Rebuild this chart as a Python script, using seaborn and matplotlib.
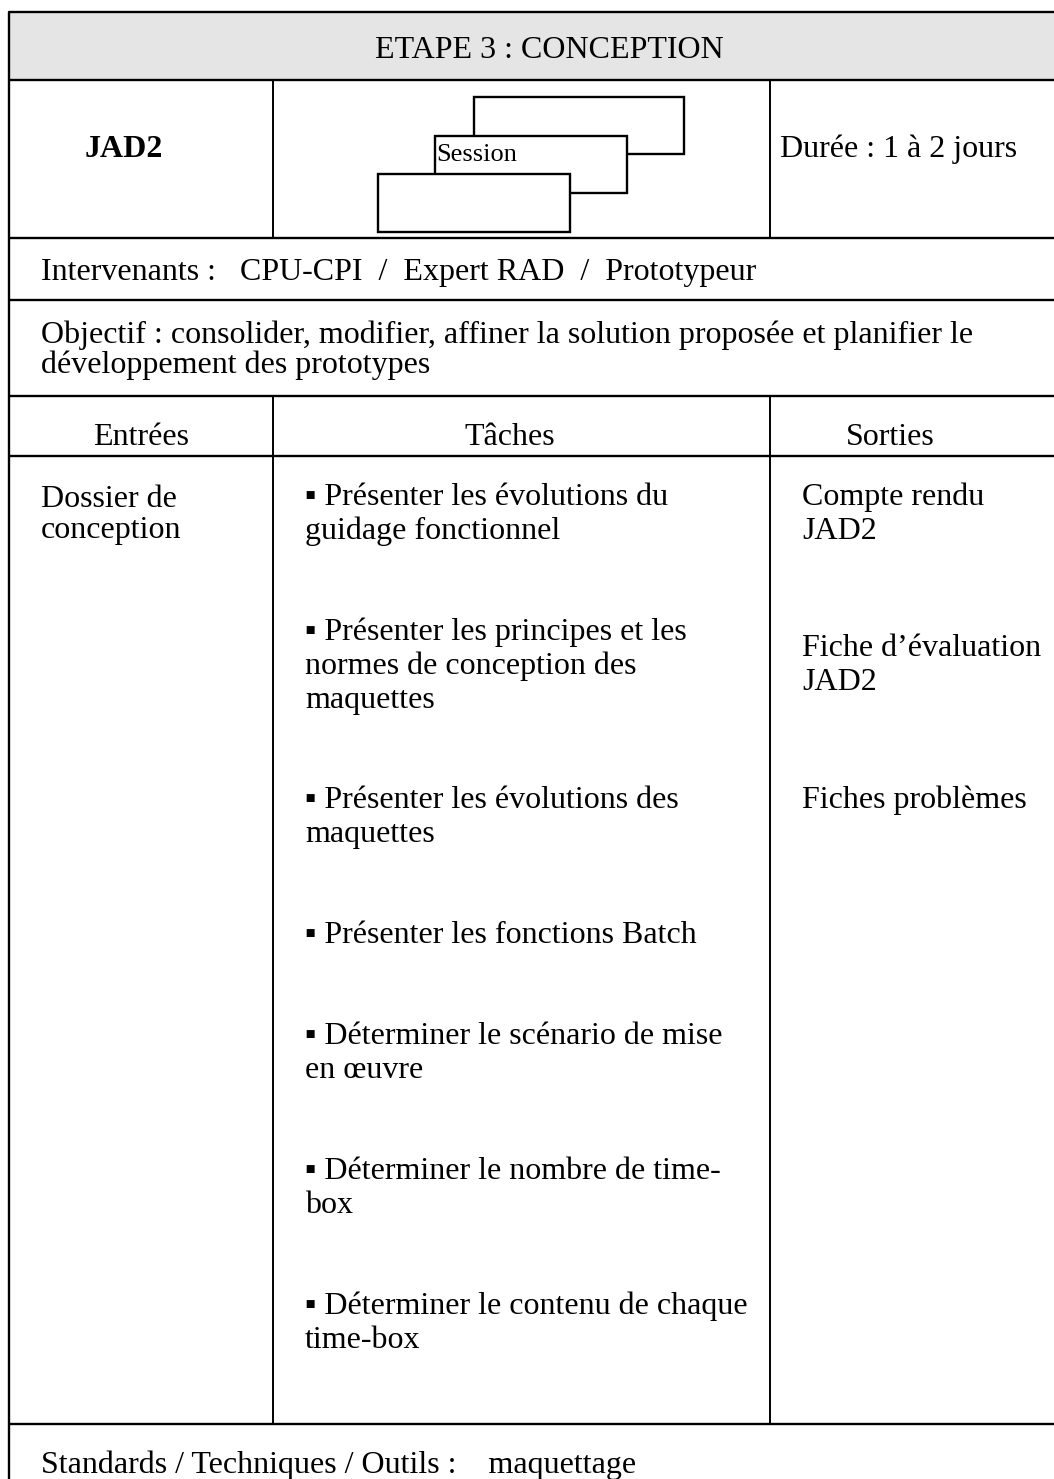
import matplotlib
matplotlib.use("Agg")
import matplotlib.pyplot as plt
import seaborn as sns
from matplotlib.patches import Rectangle

# Fiche content
title = "ETAPE 3 : CONCEPTION"
step_code = "JAD2"
session_label = "Session"
duration = "Durée : 1 à 2 jours"
actors = "Intervenants :   CPU-CPI  /  Expert RAD  /  Prototypeur"
objective = ["Objectif : consolider, modifier, affiner la solution proposée et planifier le",
             "développement des prototypes"]
col_headers = ["Entrées", "Tâches", "Sorties"]
inputs = [["Dossier de", "conception"]]
tasks = [
    ["▪ Présenter les évolutions du", "guidage fonctionnel"],
    ["▪ Présenter les principes et les", "normes de conception des", "maquettes"],
    ["▪ Présenter les évolutions des", "maquettes"],
    ["▪ Présenter les fonctions Batch"],
    ["▪ Déterminer le scénario de mise", "en œuvre"],
    ["▪ Déterminer le nombre de time-", "box"],
    ["▪ Déterminer le contenu de chaque", "time-box"],
]
outputs = [["Compte rendu", "JAD2"], ["Fiche d’évaluation", "JAD2"], ["Fiches problèmes"]]
tools = "Standards / Techniques / Outils :    maquettage"

# layout (pixels, y from top)
W, H = 1054, 1479
left, right = 9, 1054
col1, col2 = 273, 770
rows = [12, 80, 238, 300, 396, 456, 1424]
task_y = [505, 640, 808, 943, 1044, 1179, 1314]
out_y = [505, 656, 808]
lh = 34

sns.set_theme(style="white")
plt.rcParams['font.family'] = ['Liberation Serif', 'DejaVu Serif']
fs = 23

fig = plt.figure(figsize=(W / 100, H / 100), dpi=100)
ax = fig.add_axes([0, 0, 1, 1])
ax.set_xlim(0, W)
ax.set_ylim(H, 0)
ax.axis('off')

lw = 1.7
# header band
ax.add_patch(Rectangle((left, rows[0]), right - left + 5, rows[1] - rows[0],
                       facecolor='#e5e5e5', edgecolor='none', zorder=0))
for y in rows:
    ax.plot([left, right + 5], [y, y], color='black', lw=lw, solid_capstyle='butt')
ax.plot([left, left], [rows[0], H + 5], color='black', lw=lw)
for x in (col1, col2):
    ax.plot([x, x], [rows[1], rows[2]], color='black', lw=1.4)
    ax.plot([x, x], [rows[4], rows[6]], color='black', lw=1.4)

# session icon: three stacked boxes
boxes = [(474, 97, 210, 57), (435, 136, 192, 57), (378, 174, 192, 58)]
for bx, by, bw, bh in boxes:
    ax.add_patch(Rectangle((bx, by), bw, bh, facecolor='white', edgecolor='black',
                           lw=1.7, zorder=2))

def txt(x, y, s, size=fs, **kw):
    ax.text(x, y, s, fontsize=size, va='baseline', color='black', zorder=3, **kw)

txt(549, 58, title, ha='center')
txt(85, 157, step_code, weight='bold')
txt(436, 161, session_label, size=19)
txt(780, 157, duration)
txt(41, 280, actors)
for i, line in enumerate(objective):
    txt(41, 343 + i * 30, line)
txt(141, 445, col_headers[0], ha='center')
txt(510, 445, col_headers[1], ha='center')
txt(890, 445, col_headers[2], ha='center')

for para in inputs:
    for i, line in enumerate(para):
        txt(41, 507 + i * 31, line)
for y0, para in zip(task_y, tasks):
    for i, line in enumerate(para):
        txt(305, y0 + i * lh, line)
for y0, para in zip(out_y, outputs):
    for i, line in enumerate(para):
        txt(802, y0 + i * lh, line)
txt(41, 1473, tools)

fig.savefig('out.png', dpi=100)
